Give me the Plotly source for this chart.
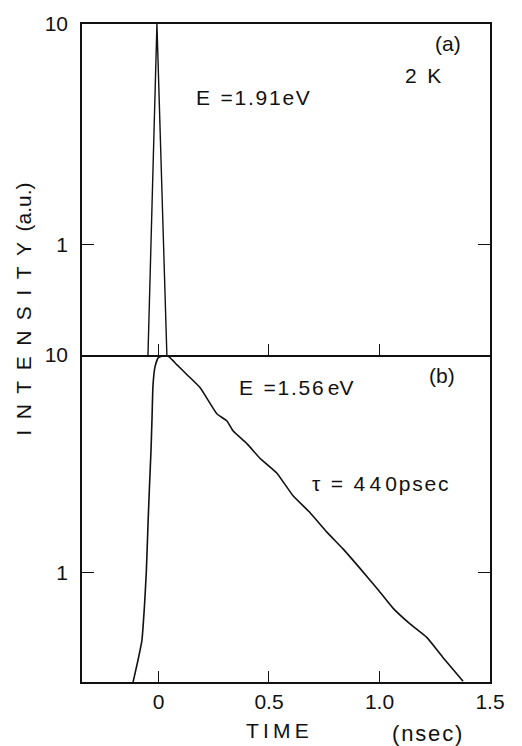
import plotly.graph_objects as go

# Panel (a): excitation pulse profile at E = 1.91 eV
t_a = [-0.0475, -0.007, 0.038]
i_a = [0.316, 10.0, 0.316]

# Panel (b): luminescence decay at E = 1.56 eV
t_b = [-0.115, -0.093, -0.075, -0.064, -0.055, -0.047, -0.040, -0.034, -0.029,
       -0.025, -0.016, -0.002, 0.020, 0.034, 0.048, 0.084, 0.129, 0.188, 0.265,
       0.310, 0.337, 0.400, 0.459, 0.536, 0.609, 0.686, 0.762, 0.835, 0.912,
       0.989, 1.061, 1.138, 1.215, 1.287, 1.378]
i_b = [0.316, 0.397, 0.490, 0.690, 1.01, 1.71, 2.60, 3.60, 5.20,
       7.20, 8.80, 9.69, 9.90, 10.0, 9.79, 9.01, 8.12, 7.09, 5.36,
       4.98, 4.49, 3.92, 3.36, 2.87, 2.26, 1.89, 1.54, 1.29, 1.05,
       0.849, 0.690, 0.584, 0.505, 0.410, 0.319]

x_ticks = [0, 0.5, 1.0, 1.5]
x_ticklabels = ["0", "0.5", "1.0", "1.5"]
y_ticks = [1, 10]
y_ticklabels = ["1", "10"]

FONT = "Liberation Sans"
INK = "#111111"
HS = "\u200a"   # hair space
TS = "\u2009"   # thin space
ES = "\u2002"   # en space

fig = go.Figure()
fig.add_trace(go.Scatter(x=t_b, y=i_b, mode="lines", xaxis="x", yaxis="y",
                         line=dict(color=INK, width=1.6, shape="spline",
                                   smoothing=0.4),
                         showlegend=False))
fig.add_trace(go.Scatter(x=t_a, y=i_a, mode="lines", xaxis="x2", yaxis="y2",
                         line=dict(color=INK, width=1.4), showlegend=False))

xrange = [-0.346, 1.5]
yrange = [-0.5, 1.0]
split = 0.497

common_x = dict(range=xrange, showline=True, linecolor=INK, linewidth=1.5,
                ticks="inside", ticklen=11, tickwidth=1.3,
                tickcolor=INK, tickvals=x_ticks, showgrid=False, zeroline=False)
common_y = dict(type="log", range=yrange, showline=True, linecolor=INK,
                linewidth=1.5, mirror="ticks", ticks="inside", ticklen=12,
                tickwidth=1.3, tickcolor=INK, tickvals=y_ticks,
                ticktext=y_ticklabels, showgrid=False, zeroline=False,
                tickfont=dict(family=FONT, size=21, color=INK),
                ticklabelstandoff=8)

fig.update_layout(
    width=522, height=746,
    margin=dict(l=82, r=32, t=14, b=64),
    paper_bgcolor="white", plot_bgcolor="white",
    font=dict(family=FONT, size=21, color=INK),
    # lower panel: its top edge is drawn by the upper panel's bottom line
    xaxis=dict(common_x, anchor="y", mirror=False, ticktext=x_ticklabels,
               tickfont=dict(family=FONT, size=21, color=INK),
               ticklabelstandoff=0),
    yaxis=dict(common_y, domain=[0, split], anchor="x"),
    xaxis2=dict(common_x, anchor="y2", mirror=True, showticklabels=False,
                matches="x"),
    yaxis2=dict(common_y, domain=[split, 1], anchor="x2"),
)

def note(text, x, y, size=21, **kw):
    fig.add_annotation(text=text, x=x, y=y, xref="paper", yref="paper",
                       showarrow=False, xanchor="center", yanchor="middle",
                       font=dict(family=FONT, size=size, color=INK), **kw)

note("(a)", 0.896, 0.971)
note("2" + ES + "K", 0.835, 0.922)
note("E" + ES + HS.join("=1.91eV"), 0.418, 0.888)
note("(b)", 0.882, 0.4656)
note("E" + ES + HS.join("=1.56") + TS + "eV", 0.525, 0.4476)
note("τ" + ES + "=" + ES + TS.join("440") + HS + HS.join("psec"),
     0.730, 0.3024)
note(TS.join("TIME"), 0.478, -0.0734)
note(HS.join("(nsec)"), 0.845, -0.079, size=22)
note(ES.join("INTENSITY") + ES + "(a.u.)", -0.142, 0.566, textangle=-90)

fig.write_html("out.html")
